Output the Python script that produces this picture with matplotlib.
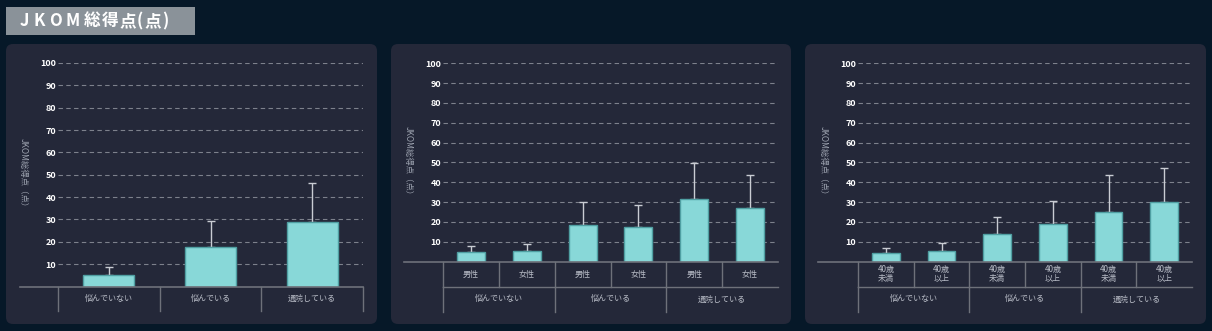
import numpy as np
import matplotlib
matplotlib.use("Agg")
import matplotlib.pyplot as plt
from matplotlib.patches import FancyBboxPatch

plt.rcParams['font.family'] = ['Noto Sans CJK JP', 'DejaVu Sans']

W, H = 1212, 331

title = 'JKOM総得点(点)'
ylabel = 'JKOM総得点（点）'

groups = ['悩んでいない', '悩んでいる', '通院している']
sex_labels = ['男性', '女性']
age_labels = ['40歳\n未満', '40歳\n以上']

# mean and SD of the total score
total_mean = [5.1, 17.6, 29.0]
total_sd = [3.6, 11.5, 17.3]

sex_mean = [4.8, 5.3, 18.2, 17.2, 31.7, 27.0]
sex_sd = [2.8, 3.5, 11.8, 11.3, 17.9, 16.5]

age_mean = [4.1, 5.1, 13.9, 18.8, 24.8, 30.2]
age_sd = [2.8, 4.0, 8.4, 11.6, 18.7, 17.2]

BG = '#061828'
PANEL = '#242839'
BAR = '#88d8d8'
BAR_EDGE = '#4f9fa2'
ERR = '#c9ccd3'
GRID = '#7d818c'
AXIS = '#6e717a'
LABEL = '#b9bdc7'

fig = plt.figure(figsize=(W / 100, H / 100), dpi=100, facecolor=BG)


def px_box(x0, y0, x1, y1, color, rounding=0.0):
    # rectangle given in pixels from the top-left corner
    p = FancyBboxPatch((x0 / 100, (H - y1) / 100), (x1 - x0) / 100, (y1 - y0) / 100,
                       boxstyle=f'round,pad=0,rounding_size={rounding}',
                       transform=fig.dpi_scale_trans, facecolor=color,
                       edgecolor='none', zorder=-1)
    fig.patches.append(p)


# title box with letter-spaced text
px_box(6, 7, 195, 35, '#8a9299')
renderer = fig.canvas.get_renderer()
x = 20
prev = None
for ch in title:
    t = fig.text(0, 1 - 21 / H, ch, fontsize=12, fontweight='bold',
                 color='white', ha='center', va='center')
    w = t.get_window_extent(renderer).width
    if prev is None:
        x += w / 2
    else:
        latin = (ch.isascii() and ch.isalpha()) or (prev[0].isascii() and prev[0].isalpha())
        x += (prev[1] + w) / 2 + (4.0 if latin else 1.0)
    t.set_x(x / W)
    prev = (ch, w)

# panel backgrounds
px_box(6, 44, 377, 324, PANEL, 0.07)
px_box(391, 44, 791, 324, PANEL, 0.07)
px_box(805, 44, 1206, 324, PANEL, 0.07)


def draw_panel(left, top, right, bottom, line_start, ylab_x, means, sds,
               sub_labels, row_h):
    ax = fig.add_axes([left / W, 1 - bottom / H, (right - left) / W, (bottom - top) / H])
    ax.set_facecolor('none')
    hpx = bottom - top
    wpx = right - left
    n = len(means)
    xs = np.arange(n) + 0.5

    ax.errorbar(xs, means, yerr=[np.zeros(n), sds], fmt='none', ecolor=ERR,
                elinewidth=1.0, capsize=3, capthick=1.0, zorder=2)
    ax.bar(xs, means, width=0.5, color=BAR, edgecolor=BAR_EDGE, linewidth=1.0, zorder=3)

    ax.set_xlim(0, n)
    ax.set_ylim(0, 100)
    ax.set_yticks(range(10, 101, 10))
    ax.set_xticks([])
    ax.yaxis.grid(True, linestyle=(0, (4, 3)), color=GRID, linewidth=0.8)
    ax.set_axisbelow(True)
    ax.tick_params(axis='y', length=0, pad=1.5, labelsize=6.5, labelcolor='white')
    for lab in ax.get_yticklabels():
        lab.set_fontweight('bold')
    for s in ax.spines.values():
        s.set_visible(False)

    # baseline, extended to the left
    ax.plot([(line_start - left) / wpx, 1], [0, 0], transform=ax.transAxes,
            color=AXIS, linewidth=1.2, clip_on=False, zorder=4)

    xt = ax.get_xaxis_transform()
    f = lambda p: -p / hpx
    if sub_labels is None:
        for i in range(n + 1):
            ax.plot([i, i], [0, f(row_h)], transform=xt, color=AXIS, linewidth=1.0,
                    clip_on=False)
        for i, g in enumerate(groups):
            ax.text(i + 0.5, f(row_h / 2), g, transform=xt, ha='center', va='center',
                    fontsize=5.8, color=LABEL)
    else:
        for i in range(n):
            ax.plot([i, i], [0, f(row_h)], transform=xt, color=AXIS, linewidth=1.0,
                    clip_on=False)
        ax.plot([0, n], [f(row_h), f(row_h)], transform=xt, color=AXIS, linewidth=1.0,
                clip_on=False)
        for i in range(0, n, 2):
            ax.plot([i, i], [f(row_h), f(2 * row_h)], transform=xt, color=AXIS,
                    linewidth=1.0, clip_on=False)
        for i in range(n):
            ax.text(i + 0.5, f(row_h / 2), sub_labels[i % 2], transform=xt,
                    ha='center', va='center', fontsize=5.8, color=LABEL,
                    linespacing=0.95)
        for j, g in enumerate(groups):
            ax.text(2 * j + 1, f(1.5 * row_h), g, transform=xt, ha='center',
                    va='center', fontsize=5.8, color=LABEL)

    fig.text(ylab_x / W, 1 - (top + hpx * 0.5) / H, ylabel, rotation=270,
             ha='center', va='center', fontsize=6, color='#9da3b0')
    return ax


draw_panel(58, 63, 363, 286.5, 20, 23, total_mean, total_sd, None, 24)
draw_panel(443, 63.3, 778, 261.5, 404, 408, sex_mean, sex_sd, sex_labels, 25)
draw_panel(858, 63.3, 1192, 261.5, 818, 823, age_mean, age_sd, age_labels, 25)

fig.savefig('out.png', dpi=100, facecolor=BG)
